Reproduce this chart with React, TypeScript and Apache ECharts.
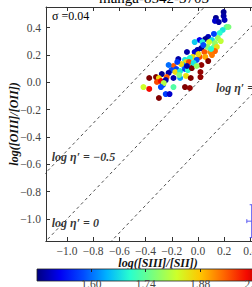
import React, { useEffect, useRef } from 'react';
import * as echarts from 'echarts';

// log([SIII]/[SII]) of each spaxel
const logS32 = [
  0.196, 0.196, 0.137, 0.130, 0.159, 0.203, 0.218, 0.233, 0.189, 0.166,
  0.152, 0.122, 0.078, 0.056, 0.107, 0.012, -0.025, 0.034, 0.130, 0.085,
  0.071, 0.122, 0.144, 0.026, -0.003, -0.025, -0.084, 0.049, 0.093, 0.130,
  0.174, -0.040, 0.012, 0.056, 0.107, -0.062, -0.150, -0.099, -0.091, 0.078,
  0.026, -0.010, -0.062, -0.114, -0.187, -0.224, -0.165, -0.202, -0.173, -0.136,
  -0.099, -0.077, -0.047, 0.019, -0.224, -0.276, -0.239, -0.187, -0.136, -0.091,
  -0.055, -0.320, -0.372, -0.298, -0.313, -0.283, -0.246, 0.019, -0.268, -0.261,
  -0.187, -0.416, -0.372, -0.099, -0.062, -0.298, -0.246, -0.217, -0.283, 0.041,
  0.100, 0.004, -0.069, -0.033, -0.128, -0.158, -0.010, -0.084, -0.143,
];
// log([OIII]/[OII]) of each spaxel
const logO32 = [
  0.513, 0.484, 0.470, 0.448, 0.440, 0.455, 0.404, 0.404, 0.382, 0.360,
  0.323, 0.353, 0.331, 0.316, 0.309, 0.309, 0.294, 0.294, 0.287, 0.294,
  0.258, 0.258, 0.258, 0.250, 0.236, 0.221, 0.221, 0.221, 0.221, 0.228,
  0.301, 0.185, 0.185, 0.185, 0.199, 0.177, 0.170, 0.163, 0.148, 0.155,
  0.126, 0.163, 0.126, 0.126, 0.119, 0.126, 0.097, 0.089, 0.075, 0.082,
  0.097, 0.089, 0.104, 0.075, 0.068, 0.060, 0.038, 0.031, 0.031, 0.046,
  0.031, 0.038, 0.031, 0.031, 0.002, 0.009, 0.016, 0.038, -0.020, -0.006,
  -0.035, -0.035, -0.049, -0.035, -0.042, -0.115, -0.086, -0.086, -0.035, 0.272,
  0.243, 0.206, 0.148, 0.141, 0.133, 0.148, 0.119, 0.119, 0.053,
];
// colour-coded quantity
const colorValue = [
  1.47, 1.48, 1.47, 1.50, 1.48, 1.49, 1.74, 1.76, 1.68, 1.70,
  1.78, 1.57, 1.49, 1.47, 1.67, 1.52, 1.66, 1.69, 1.78, 1.82,
  1.77, 1.76, 1.85, 1.47, 1.48, 1.50, 1.48, 1.95, 1.92, 1.94,
  1.81, 1.86, 1.96, 1.90, 1.93, 1.70, 1.48, 1.68, 1.86, 2.06,
  2.05, 1.58, 1.70, 1.63, 1.95, 1.60, 1.57, 1.58, 1.86, 1.68,
  1.57, 1.70, 2.06, 2.05, 1.48, 1.47, 1.95, 1.48, 1.63, 1.85,
  2.06, 2.06, 2.06, 1.86, 1.96, 2.00, 1.48, 2.05, 1.58, 1.80,
  1.73, 1.82, 2.00, 2.06, 2.05, 2.06, 1.57, 1.50, 1.58, 1.58,
  1.70, 1.86, 1.96, 1.68, 1.86, 1.57, 1.78, 1.48, 1.76,
];

const xTicks = [-1.0, -0.8, -0.6, -0.4, -0.2, 0.0, 0.2, 0.4];
const yTicks = [-1.0, -0.8, -0.6, -0.4, -0.2, 0.0, 0.2, 0.4];
const colorbarTicks = [1.6, 1.74, 1.88, 2.02];

// log eta' = log(OII/OIII) - log(SII/SIII)  ->  y = x - logEta
const etaLevels = [-0.5, 0, 0.5];
const etaLabelText = ["log η′ = −0.5", "log η′ = 0", "log η′ = 0.5"];
const etaLabelX = [-1.116, -1.116, 0.137];
const etaLabelY = [-0.546, -1.025, -0.042];

// representative error bar [x, y, xerr, yerr]
const errorBar = [[0.41, -1.015, 0.037, 0.12]];

const titleText = 'manga-8542-3703';
const sigmaText = 'σ =0.04';

const jet = [
  '#000080', '#0000f4', '#004cff', '#00b3ff', '#29ffce', '#7bff7b',
  '#ceff29', '#ffc600', '#ff6800', '#f40900', '#800000',
];

const SERIF = '"Liberation Serif", "DejaVu Serif", serif';

const fmt1 = (v: number) => v.toFixed(1).replace('-', '−');

export default function App() {
  const ref = useRef<HTMLDivElement>(null);
  useEffect(() => {
    document.body.style.margin = '0';
    if (!ref.current) return;
    const chart = echarts.init(ref.current, undefined, { renderer: 'svg' });
    const xr: [number, number] = [-1.16, 0.55];
    const yr: [number, number] = [-1.16, 0.55];
    const axisColor = '#333';
    const labelStyle = { color: '#444', fontSize: 11.5, fontFamily: SERIF };
    const nameStyle = {
      color: '#111', fontSize: 12, fontFamily: SERIF, fontWeight: 'bold' as const, fontStyle: 'italic' as const,
    };
    const lineSeries = etaLevels.map((eta) => ({
      type: 'line' as const,
      xAxisIndex: 0,
      yAxisIndex: 0,
      data: [[-1.4, -1.4 - eta], [0.8, 0.8 - eta]],
      symbol: 'none',
      silent: true,
      clip: true,
      lineStyle: { color: '#222', width: 0.8, type: [3, 3] as any },
      z: 1,
    }));
    const points = logS32.map((x, i) => [x, logO32[i], colorValue[i]]);
    const jetStops = jet.map((c, i) => ({ offset: i / (jet.length - 1), color: c }));
    chart.setOption({
      animation: false,
      backgroundColor: '#fff',
      grid: [
        { left: 38, top: 7, width: 232, height: 234 },
        { left: 37, top: 269, width: 233, height: 12 },
      ],
      xAxis: [
        {
          type: 'value', gridIndex: 0, min: xr[0], max: xr[1], position: 'bottom',
          axisLine: { show: true, onZero: false, lineStyle: { color: axisColor, width: 1 } },
          axisTick: { show: true, inside: true, length: 4, customValues: xTicks, lineStyle: { color: axisColor } },
          axisLabel: { ...labelStyle, margin: 4, customValues: xTicks, formatter: fmt1 },
          splitLine: { show: false },
          name: 'log([SIII]/[SII])', nameLocation: 'middle', nameGap: 16, nameMoveOverlap: false,
          nameTextStyle: nameStyle,
        },
        {
          type: 'value', gridIndex: 0, min: xr[0], max: xr[1], position: 'top',
          axisLine: { show: true, onZero: false, lineStyle: { color: axisColor, width: 1 } },
          axisTick: { show: true, inside: true, length: 4, customValues: xTicks, lineStyle: { color: axisColor } },
          axisLabel: { show: false },
          splitLine: { show: false },
        },
        {
          type: 'value', gridIndex: 1, min: 1.46, max: 2.06, position: 'bottom', z: 10,
          axisLine: { show: false },
          axisTick: { show: true, inside: true, length: 3, customValues: colorbarTicks, lineStyle: { color: '#222' } },
          axisLabel: { ...labelStyle, margin: 6, customValues: colorbarTicks, formatter: (v: number) => v.toFixed(2) },
          splitLine: { show: false },
        },
      ],
      yAxis: [
        {
          type: 'value', gridIndex: 0, min: yr[0], max: yr[1], position: 'left',
          axisLine: { show: true, onZero: false, lineStyle: { color: axisColor, width: 1 } },
          axisTick: { show: true, inside: true, length: 4, customValues: yTicks, lineStyle: { color: axisColor } },
          axisLabel: { ...labelStyle, margin: 5, customValues: yTicks, formatter: fmt1 },
          splitLine: { show: false },
          name: 'log([OIII]/[OII])', nameLocation: 'middle', nameGap: 26, nameRotate: 90, nameMoveOverlap: false,
          nameTextStyle: nameStyle,
        },
        {
          type: 'value', gridIndex: 0, min: yr[0], max: yr[1], position: 'right',
          axisLine: { show: true, onZero: false, lineStyle: { color: axisColor, width: 1 } },
          axisTick: { show: true, inside: true, length: 4, customValues: yTicks, lineStyle: { color: axisColor } },
          axisLabel: { show: false },
          splitLine: { show: false },
        },
        { type: 'value', gridIndex: 1, show: false, min: 0, max: 1 },
      ],
      visualMap: {
        type: 'continuous', show: false, min: 1.46, max: 2.06, dimension: 2, seriesIndex: 3,
        inRange: { color: jet },
      },
      series: [
        ...lineSeries,
        {
          type: 'scatter', xAxisIndex: 0, yAxisIndex: 0, data: points, symbolSize: 6,
          itemStyle: { opacity: 1 }, z: 3,
        },
        {
          type: 'scatter', xAxisIndex: 0, yAxisIndex: 0, symbolSize: 0, silent: true, z: 4,
          data: etaLabelText.map((t, i) => ({ name: t, value: [etaLabelX[i], etaLabelY[i]] })),
          itemStyle: { color: 'transparent' },
          label: {
            show: true, position: 'right', distance: 0, formatter: (p: any) => p.name,
            color: '#000', fontSize: 12, fontFamily: SERIF, fontWeight: 'bold', fontStyle: 'italic',
          },
        },
        {
          type: 'custom', xAxisIndex: 0, yAxisIndex: 0, data: errorBar, z: 5, silent: true,
          renderItem: (params: any, api: any) => {
            const x = api.value(0), y = api.value(1), ex = api.value(2), ey = api.value(3);
            const l = api.coord([x - ex, y]);
            const r = api.coord([x + ex, y]);
            const t = api.coord([x, y + ey]);
            const b = api.coord([x, y - ey]);
            const style = { stroke: '#5c5cf2', lineWidth: 1 };
            const cap = 2;
            return {
              type: 'group',
              children: [
                { type: 'line', shape: { x1: l[0], y1: l[1], x2: r[0], y2: r[1] }, style },
                { type: 'line', shape: { x1: t[0], y1: t[1], x2: b[0], y2: b[1] }, style },
                { type: 'line', shape: { x1: l[0], y1: l[1] - cap, x2: l[0], y2: l[1] + cap }, style },
                { type: 'line', shape: { x1: r[0], y1: r[1] - cap, x2: r[0], y2: r[1] + cap }, style },
                { type: 'line', shape: { x1: t[0] - cap, y1: t[1], x2: t[0] + cap, y2: t[1] }, style },
                { type: 'line', shape: { x1: b[0] - cap, y1: b[1], x2: b[0] + cap, y2: b[1] }, style },
              ],
            };
          },
        },
      ],
      graphic: [
        {
          type: 'text', x: 154, y: 5, z: 10,
          style: { text: titleText, fill: '#000', font: `15px ${SERIF}`, textAlign: 'center', textVerticalAlign: 'bottom' },
        },
        {
          type: 'text', x: 52, y: 16, z: 10,
          style: { text: sigmaText, fill: '#000', font: `12px ${SERIF}`, textAlign: 'left', textVerticalAlign: 'middle' },
        },
        {
          type: 'rect', z: 1,
          shape: { x: 37, y: 269, width: 233, height: 12 },
          style: {
            fill: new echarts.graphic.LinearGradient(0, 0, 1, 0, jetStops),
            stroke: '#222', lineWidth: 0.8,
          },
        },
      ],
    });
    return () => chart.dispose();
  }, []);
  return <div ref={ref} style={{ position: 'fixed', left: 0, top: 0, width: 280, height: 287 }} />;
}
